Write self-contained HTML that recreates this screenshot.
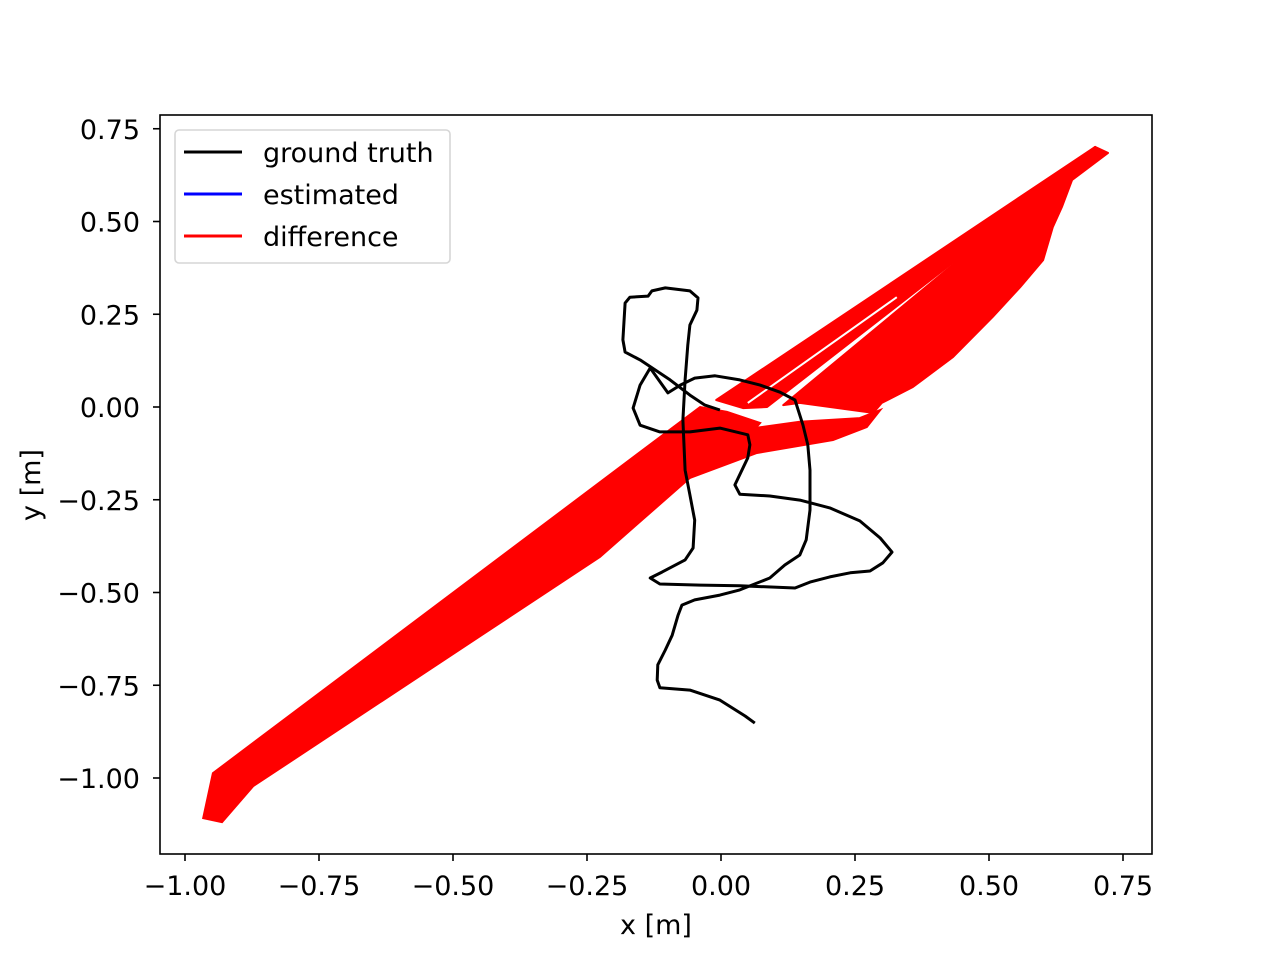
<!DOCTYPE html>
<html><head><meta charset="utf-8"><style>
html,body{margin:0;padding:0;background:#fff;}
svg{display:block;font-family:"DejaVu Sans","Liberation Sans",sans-serif;}
</style></head><body>
<svg id="chart" width="1280" height="960" viewBox="0 0 1280 960" xmlns="http://www.w3.org/2000/svg">
<rect width="1280" height="960" fill="#fff"/>
<g id="plot"></g>
<g id="axes"></g>
</svg>
<script>
// ---- data ----
const xTicks = [-1.00, -0.75, -0.50, -0.25, 0.00, 0.25, 0.50, 0.75];
const yTicks = [-1.00, -0.75, -0.50, -0.25, 0.00, 0.25, 0.50, 0.75];
const xTickLabels = ["−1.00","−0.75","−0.50","−0.25","0.00","0.25","0.50","0.75"];
const yTickLabels = ["−1.00","−0.75","−0.50","−0.25","0.00","0.25","0.50","0.75"];
const gtX = [0.063,0.045,-0.002,-0.058,-0.114,-0.119,-0.118,-0.104,-0.091,-0.080,-0.073,-0.049,-0.002,0.035,0.091,0.119,0.147,0.159,0.166,0.166,0.162,0.153,0.138,0.110,0.073,0.035,-0.011,-0.049,-0.076,-0.099,-0.132,-0.151,-0.164,-0.151,-0.114,-0.058,-0.002,0.050,0.054,0.050,0.026,0.035,0.091,0.147,0.203,0.259,0.297,0.319,0.302,0.278,0.241,0.203,0.166,0.138,0.035,-0.039,-0.114,-0.132,-0.110,-0.067,-0.052,-0.049,-0.058,-0.067,-0.071,-0.067,-0.062,-0.058,-0.045,-0.043,-0.058,-0.104,-0.129,-0.136,-0.170,-0.179,-0.183,-0.179,-0.151,-0.123,-0.095,-0.058,-0.030,-0.002];
const gtY = [-0.852,-0.833,-0.790,-0.763,-0.757,-0.736,-0.695,-0.655,-0.615,-0.561,-0.534,-0.520,-0.507,-0.493,-0.461,-0.426,-0.399,-0.358,-0.278,-0.170,-0.102,-0.049,0.019,0.040,0.059,0.073,0.084,0.078,0.059,0.038,0.105,0.059,-0.003,-0.049,-0.067,-0.067,-0.057,-0.075,-0.102,-0.137,-0.210,-0.235,-0.240,-0.251,-0.272,-0.307,-0.353,-0.391,-0.420,-0.442,-0.447,-0.458,-0.472,-0.488,-0.482,-0.480,-0.477,-0.461,-0.445,-0.412,-0.380,-0.305,-0.237,-0.170,-0.035,0.073,0.167,0.221,0.261,0.294,0.313,0.321,0.313,0.299,0.296,0.280,0.181,0.148,0.127,0.100,0.073,0.032,0.005,-0.008];
// difference bands (regions swept by gt→estimate segments)
const diffLowerX = [-0.966,-0.948,-0.039,0.011,0.073,0.045,-0.058,-0.226,-0.873,-0.931];
const diffLowerY = [-1.108,-0.987,0.000,-0.013,-0.043,-0.089,-0.191,-0.404,-1.022,-1.119];
const diffMidX = [-0.058,0.035,0.147,0.259,0.297,0.272,0.209,0.067];
const diffMidY = [-0.191,-0.062,-0.040,-0.030,-0.008,-0.054,-0.089,-0.124];
const diffUpperX = [0.116,0.511,0.698,0.722,0.655,0.636,0.619,0.601,0.558,0.507,0.433,0.358,0.300,0.284,0.147];
const diffUpperY = [0.005,0.477,0.701,0.685,0.612,0.539,0.485,0.396,0.323,0.243,0.135,0.054,0.011,-0.016,0.011];
const diffStreakX = [-0.009,0.698,0.511,0.086,0.041];
const diffStreakY = [0.019,0.701,0.477,0.000,-0.003];
const gapX = [0.050,0.328];
const gapY = [0.011,0.296];

// ---- axes ----
const L=160,R=1152,T=115,B=854;
const sx = v => 721 + v*536;
const sy = v => 407 - v*371;
const NS="http://www.w3.org/2000/svg";
const plot=document.getElementById('plot'), axes=document.getElementById('axes');
function mk(tag, attrs, parent){const e=document.createElementNS(NS,tag);for(const k in attrs)e.setAttribute(k,attrs[k]);parent.appendChild(e);return e;}
function pts(xs,ys){return xs.map((x,i)=>sx(x).toFixed(1)+','+sy(ys[i]).toFixed(1)).join(' ');}

let p;
p=mk('polygon',{points:pts(diffLowerX,diffLowerY),fill:'#ff0000',stroke:'#ff0000','stroke-width':2},plot);


p=mk('polygon',{points:pts(diffMidX,diffMidY),fill:'#ff0000',stroke:'#ff0000','stroke-width':2},plot);


p=mk('polygon',{points:pts(diffUpperX,diffUpperY),fill:'#ff0000',stroke:'#ff0000','stroke-width':2,'stroke-linejoin':'round'},plot);


p=mk('polygon',{points:pts(diffStreakX,diffStreakY),fill:'#ff0000',stroke:'#ff0000','stroke-width':2,'stroke-linejoin':'round'},plot);


p=mk('polyline',{points:pts(gapX,gapY),fill:'none',stroke:'#fff','stroke-width':2},plot);


p=mk('polyline',{points:pts(gtX,gtY),fill:'none',stroke:'#000','stroke-width':3,'stroke-linejoin':'round'},plot);



p=mk('rect',{x:L,y:T,width:R-L,height:B-T,fill:'none',stroke:'#000','stroke-width':1.6},axes);


xTicks.forEach((v,i)=>{
  const x=sx(v);
  let t=mk('line',{x1:x,x2:x,y1:B,y2:B+7,stroke:'#000','stroke-width':1.6},axes);
  
  
  let tx=mk('text',{x:x,y:B+41,'text-anchor':'middle','font-size':27},axes);
  tx.textContent=xTickLabels[i];
  
  
});
yTicks.forEach((v,i)=>{
  const y=sy(v);
  let t=mk('line',{x1:L-7,x2:L,y1:y,y2:y,stroke:'#000','stroke-width':1.6},axes);
  
  
  let tx=mk('text',{x:L-20,y:y+10,'text-anchor':'end','font-size':27},axes);
  tx.textContent=yTickLabels[i];
  
  
});
</script>
<svg style="position:absolute;left:0;top:0" width="1280" height="960" xmlns="http://www.w3.org/2000/svg">
<text x="656" y="934" text-anchor="middle" font-size="27" font-family="DejaVu Sans, sans-serif">x [m]</text>
<text transform="translate(40,485) rotate(-90)" text-anchor="middle" font-size="27" font-family="DejaVu Sans, sans-serif">y [m]</text>
<g>
<rect x="175" y="130" width="275" height="133" rx="4" fill="#fff" fill-opacity="0.8" stroke="#d6d6d6" stroke-width="1.6"/>
<line x1="184" x2="242" y1="152" y2="152" stroke="#000" stroke-width="3"/>
<text x="263" y="162" font-size="27" font-family="DejaVu Sans, sans-serif">ground truth</text>
<line x1="184" x2="242" y1="194" y2="194" stroke="#0000ff" stroke-width="3"/>
<text x="263" y="204" font-size="27" font-family="DejaVu Sans, sans-serif">estimated</text>
<line x1="184" x2="242" y1="236" y2="236" stroke="#ff0000" stroke-width="3"/>
<text x="263" y="246" font-size="27" font-family="DejaVu Sans, sans-serif">difference</text>
</g>
</svg>
</body></html>
